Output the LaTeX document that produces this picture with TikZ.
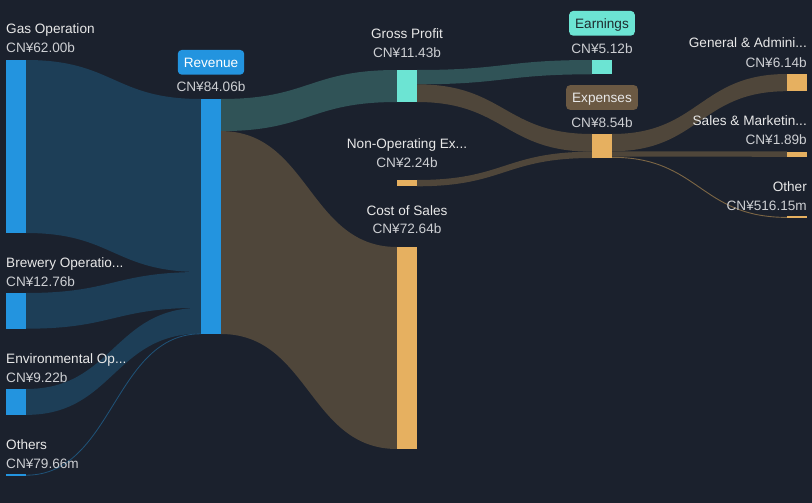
\documentclass[tikz,border=0pt]{standalone}
\usepackage{fontspec}
\setmainfont{Liberation Sans}
\definecolor{bgc}{HTML}{1B212D}
\definecolor{bluebar}{HTML}{2394DF}
\definecolor{bluelink}{HTML}{1D3E57}
\definecolor{tealbar}{HTML}{6CE4D3}
\definecolor{teallink}{HTML}{305357}
\definecolor{orangebar}{HTML}{E6B060}
\definecolor{brownlink}{HTML}{4F463A}
\definecolor{expbadge}{HTML}{6B5943}
\definecolor{labeltxt}{HTML}{E8E8E8}
\definecolor{valtxt}{HTML}{CDCFD3}
\definecolor{darktxt}{HTML}{1E2A2E}
\newcommand\sflow[7]{%
  \pgfmathsetmacro\sfxm{(#1+#4)/2}%
  \fill[#7] (#1,#2) .. controls (\sfxm,#2) and (\sfxm,#5) .. (#4,#5) -- (#4,#6) .. controls (\sfxm,#6) and (\sfxm,#3) .. (#1,#3) -- cycle;}
\tikzset{
  barnode/.style={rectangle, inner sep=0pt, outer sep=0pt, minimum width=20pt, draw=none},
  lbl/.style={text=labeltxt, inner sep=0pt, font=\fontsize{13.6}{16}\selectfont},
  val/.style={text=valtxt, inner sep=0pt, font=\fontsize{13.6}{16}\selectfont},
  badge/.style={rectangle, rounded corners=4pt, inner xsep=6pt, inner ysep=0pt, minimum height=24.7pt, text height=9.7pt, text depth=0pt, font=\fontsize{13.6}{16}\selectfont}
}
\begin{document}
\begin{tikzpicture}[x=1pt,y=-1pt]
\fill[bgc] (0,0) rectangle (812,503);
\useasboundingbox (0,0) rectangle (812,503);
% flows
\sflow{26}{60}{233}{201}{99}{272}{bluelink}
\sflow{26}{293}{328.7}{201}{272}{307.8}{bluelink}
\sflow{26}{389}{414.9}{201}{307.8}{333.6}{bluelink}
\draw[bluelink!75!bluebar, line width=0.8pt] (26,475.2) .. controls (113.5,475.2) and (113.5,333.8) .. (201,333.8);
\sflow{221}{99}{131.1}{397}{70}{102}{teallink}
\sflow{221}{131.1}{334}{397}{247}{449}{brownlink}
\sflow{417}{70}{84.3}{592}{60}{74.3}{teallink}
\sflow{417}{84.3}{102}{592}{134}{151.7}{brownlink}
\sflow{417}{180}{186.3}{592}{151.7}{158}{brownlink}
\sflow{612}{134}{151.25}{787}{74}{91.2}{brownlink}
\sflow{612}{151.25}{156.55}{787}{151.5}{156.8}{brownlink}
\draw[brownlink!70!orangebar, line width=0.9pt] (612,157.3) .. controls (699.5,157.3) and (699.5,217.4) .. (787,217.4);
% bars
\node[barnode, fill=bluebar, minimum height=173pt] (gas) at (16,146.5) {};
\node[barnode, fill=bluebar, minimum height=35.7pt] (brew) at (16,310.85) {};
\node[barnode, fill=bluebar, minimum height=25.9pt] (env) at (16,401.95) {};
\node[barnode, fill=bluebar, minimum height=1.8pt] (oths) at (16,475.2) {};
\node[barnode, fill=bluebar, minimum height=235pt] (rev) at (211,216.5) {};
\node[barnode, fill=tealbar, minimum height=32pt] (gp) at (407,86) {};
\node[barnode, fill=orangebar, minimum height=202pt] (cogs) at (407,348) {};
\node[barnode, fill=orangebar, minimum height=6.3pt] (nonop) at (407,183.15) {};
\node[barnode, fill=tealbar, minimum height=14.3pt] (earn) at (602,67.15) {};
\node[barnode, fill=orangebar, minimum height=24pt] (exp) at (602,146) {};
\node[barnode, fill=orangebar, minimum height=17.2pt] (ga) at (797,82.6) {};
\node[barnode, fill=orangebar, minimum height=5.3pt] (sm) at (797,154.15) {};
\node[barnode, fill=orangebar, minimum height=2pt] (oth) at (797,217.4) {};
% left labels
\node[lbl, anchor=base west] (tgas) at (6,33.5) {Gas Operation};
\node[val, anchor=base west] (vgas) at (6,52.5) {CN¥62.00b};
\node[lbl, anchor=base west] (tbrew) at (6,267.3) {Brewery Operatio...};
\node[val, anchor=base west] (vbrew) at (6,286) {CN¥12.76b};
\node[lbl, anchor=base west] (tenv) at (6,363.3) {Environmental Op...};
\node[val, anchor=base west] (venv) at (6,382.3) {CN¥9.22b};
\node[lbl, anchor=base west] (toths) at (6,449) {Others};
\node[val, anchor=base west] (voths) at (6,468.3) {CN¥79.66m};
% revenue
\node[badge, fill=bluebar, text=white] (trev) at (211,62.3) {Revenue};
\node[val, anchor=base] (vrev) at (211,91.7) {CN¥84.06b};
% middle
\node[lbl, anchor=base] (tgp) at (407,38.3) {Gross Profit};
\node[val, anchor=base] (vgp) at (407,57.3) {CN¥11.43b};
\node[lbl, anchor=base] (tnonop) at (407,148.3) {Non-Operating Ex...};
\node[val, anchor=base] (vnonop) at (407,167.3) {CN¥2.24b};
\node[lbl, anchor=base] (tcogs) at (407,215.3) {Cost of Sales};
\node[val, anchor=base] (vcogs) at (407,233.7) {CN¥72.64b};
% earnings / expenses
\node[badge, fill=tealbar, text=darktxt] (tearn) at (602,23.3) {Earnings};
\node[val, anchor=base] (vearn) at (602,53.3) {CN¥5.12b};
\node[badge, fill=expbadge, text=labeltxt] (texp) at (602,97.5) {Expenses};
\node[val, anchor=base] (vexp) at (602,127.3) {CN¥8.54b};
% right labels
\node[lbl, anchor=base east] (tga) at (807,47.7) {General \& Admini...};
\node[val, anchor=base east] (vga) at (807,67.3) {CN¥6.14b};
\node[lbl, anchor=base east] (tsm) at (807,125) {Sales \& Marketin...};
\node[val, anchor=base east] (vsm) at (807,144) {CN¥1.89b};
\node[lbl, anchor=base east] (toth) at (807,191) {Other};
\node[val, anchor=base east] (voth) at (807,210) {CN¥516.15m};
\end{tikzpicture}
\end{document}
